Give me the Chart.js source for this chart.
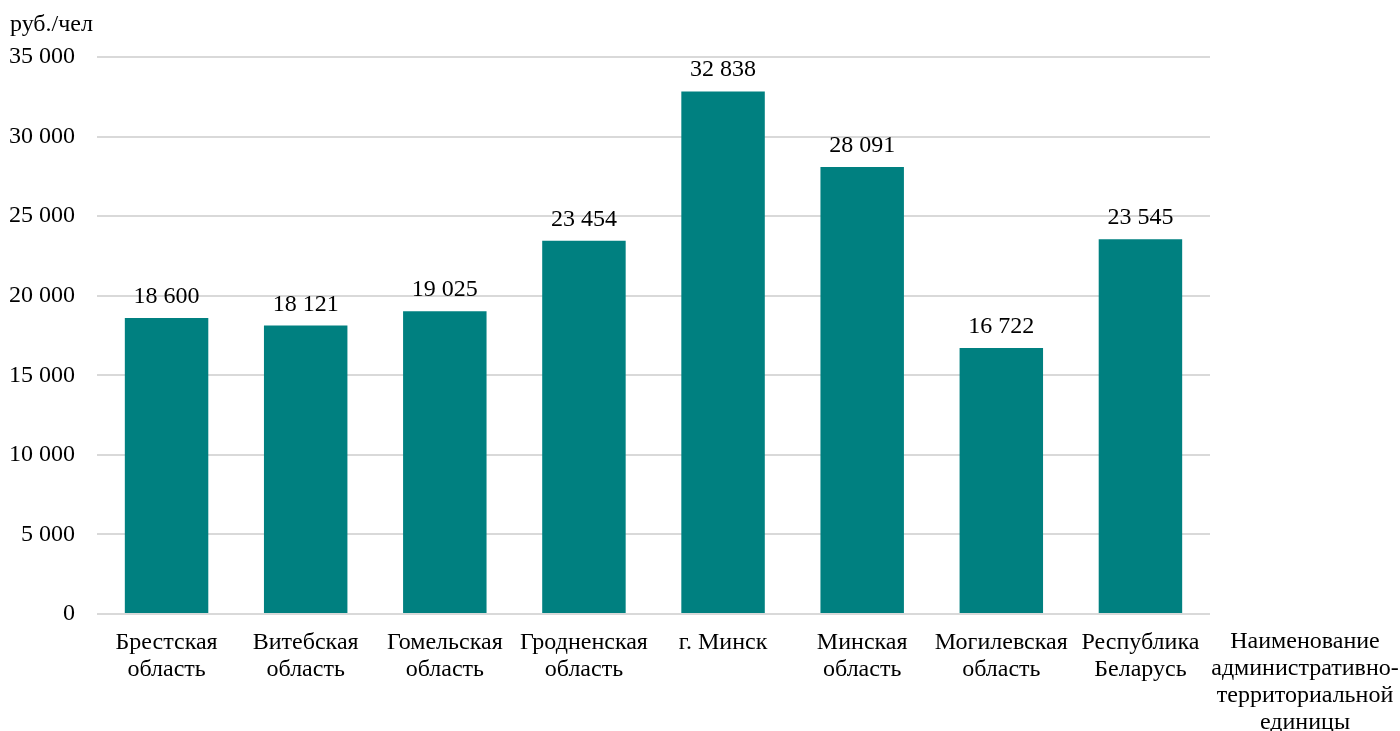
<!DOCTYPE html>
<html lang="ru">
<head>
<meta charset="utf-8">
<title>Доходы на душу населения</title>
<script src="https://cdn.jsdelivr.net/npm/chart.js@4"></script>
<style>
  html, body { margin: 0; padding: 0; background: #fff; }
  #wrap { width: 1400px; height: 731px; position: relative; }
</style>
</head>
<body>
<div id="wrap"><canvas id="incomeChart"></canvas></div>
<script>
// Регионы и значения
const regions = [
    ['Брестская', 'область'],
    ['Витебская', 'область'],
    ['Гомельская', 'область'],
    ['Гродненская', 'область'],
    ['г. Минск'],
    ['Минская', 'область'],
    ['Могилевская', 'область'],
    ['Республика', 'Беларусь']
];
const incomeValues = [18600, 18121, 19025, 23454, 32838, 28091, 16722, 23545];

// Шкала
const yMin = 0;
const yMax = 35000;
const yStep = 5000;

const unitLabel = 'руб./чел';
const categoryTitle = ['Наименование', 'административно-', 'территориальной', 'единицы'];

const FONT = "'Liberation Serif', 'Times New Roman', serif";
const FONT_SIZE = 24;

// Число с пробелом между разрядами
function formatNumber(n) {
    return String(n).replace(/\B(?=(\d{3})+(?!\d))/g, ' ');
}

// Подписи значений над столбцами
const valueLabels = {
    id: 'valueLabels',
    afterDatasetsDraw(chart) {
        const ctx = chart.ctx;
        const meta = chart.getDatasetMeta(0);
        ctx.save();
        ctx.font = `${FONT_SIZE}px ${FONT}`;
        ctx.fillStyle = '#000';
        ctx.textAlign = 'center';
        ctx.textBaseline = 'alphabetic';
        meta.data.forEach((bar, i) => {
            ctx.fillText(formatNumber(incomeValues[i]), bar.x, bar.y - 15);
        });
        ctx.restore();
    }
};

// Единица измерения и название оси категорий
const axisTexts = {
    id: 'axisTexts',
    afterDraw(chart) {
        const ctx = chart.ctx;
        const area = chart.chartArea;
        ctx.save();
        ctx.font = `${FONT_SIZE}px ${FONT}`;
        ctx.fillStyle = '#000';
        ctx.textBaseline = 'middle';
        ctx.textAlign = 'left';
        ctx.fillText(unitLabel, 10, 25);
        ctx.textAlign = 'center';
        categoryTitle.forEach((line, i) => {
            ctx.fillText(line, 1305, area.bottom + 28 + i * 27);
        });
        ctx.restore();
    }
};

new Chart(document.getElementById('incomeChart'), {
    type: 'bar',
    data: {
        labels: regions,
        datasets: [{
            data: incomeValues,
            backgroundColor: '#008080',
            categoryPercentage: 1,
            barPercentage: 0.6
        }]
    },
    options: {
        responsive: true,
        maintainAspectRatio: false,
        animation: false,
        layout: {
            padding: { left: 10, right: 190, top: 57, bottom: 33 }
        },
        plugins: {
            legend: { display: false },
            tooltip: { enabled: false }
        },
        scales: {
            x: {
                grid: { display: false, drawTicks: false },
                border: { display: false },
                ticks: {
                    color: '#000',
                    padding: 15,
                    maxRotation: 0,
                    autoSkip: false,
                    font: { family: FONT, size: FONT_SIZE, lineHeight: 1.125 }
                }
            },
            y: {
                min: yMin,
                max: yMax,
                afterFit(scale) { scale.width = 87; },
                grid: { color: '#d9d9d9', lineWidth: 2, drawTicks: false },
                border: { display: false },
                ticks: {
                    stepSize: yStep,
                    color: '#000',
                    padding: 22,
                    font: { family: FONT, size: FONT_SIZE },
                    callback: v => formatNumber(v)
                }
            }
        }
    },
    plugins: [valueLabels, axisTexts]
});
</script>
</body>
</html>
